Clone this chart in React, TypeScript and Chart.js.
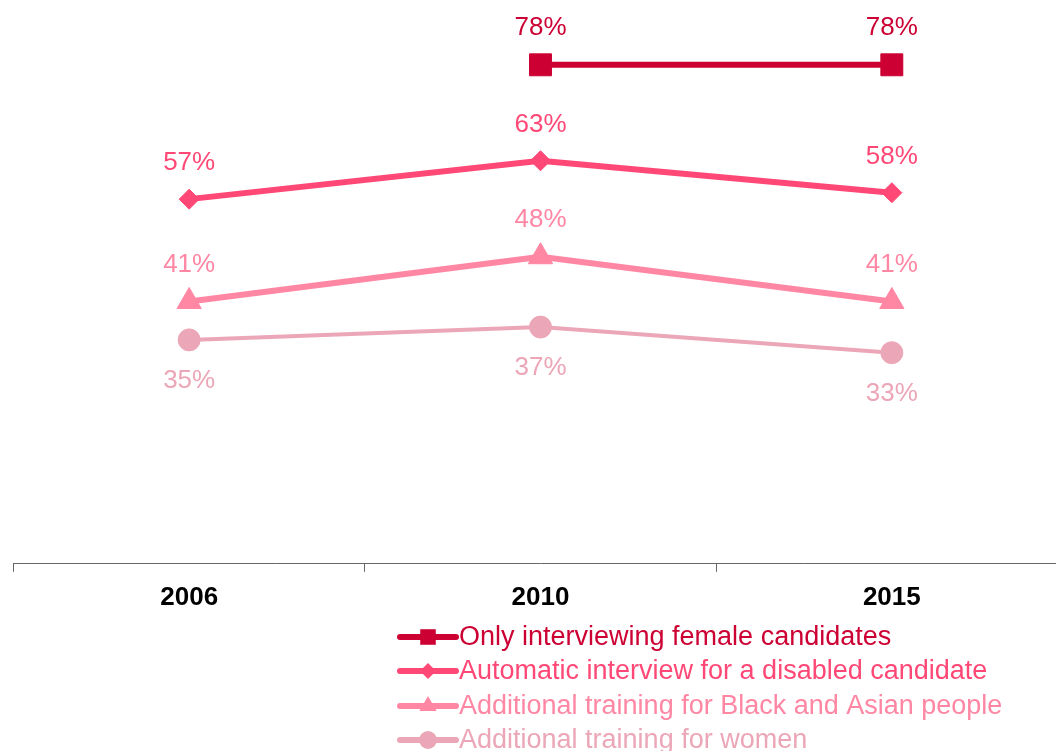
import React, { useEffect, useRef } from 'react';
import { Chart, registerables } from 'chart.js';

Chart.register(...registerables);

const categories = ['2006', '2010', '2015'];
const seriesNames = [
  'Only interviewing female candidates',
  'Automatic interview for a disabled candidate',
  'Additional training for Black and Asian people',
  'Additional training for women',
];
const femaleOnly: (number | null)[] = [null, 78, 78];
const disabledInterview: (number | null)[] = [57, 63, 58];
const blackAsianTraining: (number | null)[] = [41, 48, 41];
const womenTraining: (number | null)[] = [35, 37, 33];

const colors = ['#CC0033', '#FF4876', '#FF87A4', '#EBA6B7'];
const pointStyles = ['rect', 'rectRot', 'triangle', 'circle'];
const pointRadii = [15.5, 10, 14, 11];
const lineWidths = [6, 6, 6, 4];
const labelOffsets = [-37, -36, -37, 41];
const legendRadii = [11, 8, 10, 9];

const FONT = 'Arial, "Liberation Sans", sans-serif';

function drawMarker(ctx: CanvasRenderingContext2D, style: string, r: number, x: number, y: number) {
  ctx.beginPath();
  if (style === 'rect') {
    const s = Math.SQRT1_2 * r;
    ctx.rect(x - s, y - s, 2 * s, 2 * s);
  } else if (style === 'rectRot') {
    ctx.moveTo(x, y - r);
    ctx.lineTo(x + r, y);
    ctx.lineTo(x, y + r);
    ctx.lineTo(x - r, y);
    ctx.closePath();
  } else if (style === 'triangle') {
    ctx.moveTo(x, y - r);
    ctx.lineTo(x + r * 0.866, y + r * 0.5);
    ctx.lineTo(x - r * 0.866, y + r * 0.5);
    ctx.closePath();
  } else {
    ctx.arc(x, y, r, 0, Math.PI * 2);
  }
  ctx.fill();
}

const labelPlugin = {
  id: 'valueLabels',
  afterDatasetsDraw(chart: any) {
    const ctx = chart.ctx;
    ctx.save();
    ctx.font = `26px ${FONT}`;
    ctx.textAlign = 'center';
    ctx.textBaseline = 'middle';
    chart.data.datasets.forEach((ds: any, i: number) => {
      const meta = chart.getDatasetMeta(i);
      ctx.fillStyle = colors[i];
      meta.data.forEach((pt: any, j: number) => {
        const v = ds.data[j];
        if (v === null || v === undefined) return;
        ctx.fillText(`${v}%`, pt.x, pt.y + labelOffsets[i]);
      });
    });
    ctx.restore();
  },
};

const legendPlugin = {
  id: 'customLegend',
  afterDraw(chart: any) {
    const ctx = chart.ctx;
    ctx.save();
    const x0 = 398;
    const x1 = 458;
    const rows = [637, 671, 706, 740];
    seriesNames.forEach((name, i) => {
      const y = rows[i];
      ctx.strokeStyle = colors[i];
      ctx.lineWidth = 6;
      ctx.lineCap = 'round';
      ctx.beginPath();
      ctx.moveTo(x0 + 2, y);
      ctx.lineTo(x1 - 2, y);
      ctx.stroke();
      ctx.fillStyle = colors[i];
      drawMarker(ctx, pointStyles[i], legendRadii[i], (x0 + x1) / 2, y);
      ctx.font = `27px ${FONT}`;
      ctx.textAlign = 'left';
      ctx.textBaseline = 'middle';
      ctx.fillText(name, x1 + 1, y + 1);
    });
    ctx.restore();
  },
};

export default function App() {
  const ref = useRef<HTMLCanvasElement | null>(null);
  useEffect(() => {
    if (!ref.current) return;
    const series = [femaleOnly, disabledInterview, blackAsianTraining, womenTraining];
    const chart = new Chart(ref.current, {
      type: 'line',
      data: {
        labels: categories,
        datasets: series.map((d, i) => ({
          label: seriesNames[i],
          data: d,
          borderColor: colors[i],
          backgroundColor: colors[i],
          borderWidth: lineWidths[i],
          pointStyle: pointStyles[i] as any,
          pointRadius: pointRadii[i],
          pointHoverRadius: pointRadii[i],
          pointBackgroundColor: colors[i],
          pointBorderColor: colors[i],
          pointBorderWidth: 1,
          tension: 0,
          spanGaps: false,
          clip: false as any,
        })),
      },
      options: {
        animation: false,
        responsive: false,
        devicePixelRatio: 1,
        layout: { autoPadding: false, padding: { left: 13.5, right: 12.5, top: 52, bottom: 157 } },
        plugins: {
          legend: { display: false },
          tooltip: { enabled: false },
        },
        scales: {
          x: {
            type: 'category',
            offset: true,
            grid: {
              offset: true,
              drawOnChartArea: false,
              drawTicks: true,
              tickLength: 8,
              color: '#666666',
              lineWidth: 1,
            },
            border: { display: true, color: '#666666', width: 1 },
            ticks: {
              color: '#000000',
              font: { family: FONT, size: 26, weight: 'bold' },
              padding: 10,
              maxRotation: 0,
            },
          },
          y: {
            display: false,
            min: 0,
            max: 80,
          },
        },
      },
      plugins: [labelPlugin, legendPlugin],
    });
    return () => chart.destroy();
  }, []);
  return (
    <div style={{ position: 'absolute', left: 0, top: 0, width: 1056, height: 751, overflow: 'hidden', background: '#fff' }}>
      <canvas ref={ref} width={1080} height={780} style={{ display: 'block', width: 1080, height: 780 }} />
    </div>
  );
}
